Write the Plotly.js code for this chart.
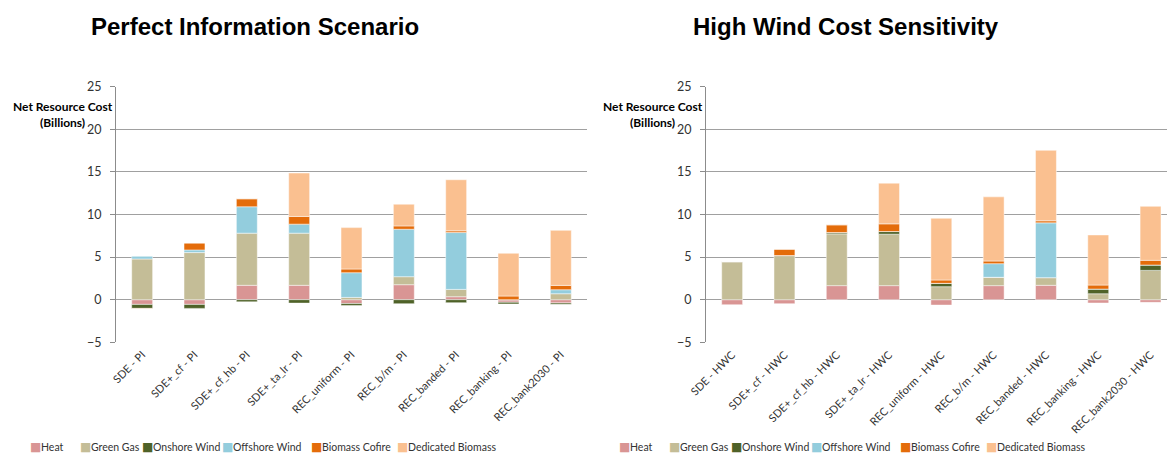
<!DOCTYPE html>
<html>
<head>
<meta charset="utf-8">
<script src="https://cdn.plot.ly/plotly-3.0.1.min.js"></script>
<style>
  html, body { margin: 0; padding: 0; background: #fff; overflow: hidden; }
  #chart { width: 1167px; height: 453px; }
</style>
</head>
<body>
<div id="chart"></div>
<script>
// ---------------- DATA ----------------
const seriesNames = ['Heat', 'Green Gas', 'Onshore Wind', 'Offshore Wind', 'Biomass Cofire', 'Dedicated Biomass'];

const categoriesPI = ['SDE - PI', 'SDE+_cf - PI', 'SDE+_cf_hb - PI', 'SDE+_ta_lr - PI', 'REC_uniform - PI',
                      'REC_b/m - PI', 'REC_banded - PI', 'REC_banking - PI', 'REC_bank2030 - PI'];
const categoriesHWC = ['SDE - HWC', 'SDE+_cf - HWC', 'SDE+_cf_hb - HWC', 'SDE+_ta_lr - HWC', 'REC_uniform - HWC',
                       'REC_b/m - HWC', 'REC_banded - HWC', 'REC_banking - HWC', 'REC_bank2030 - HWC'];

// Perfect Information Scenario (billions)
const heatPI       = [-0.55, -0.55, 1.69, 1.69, -0.45, 1.76, 0.35, -0.30, -0.38];
const greenGasPI   = [4.78, 5.53, 6.12, 6.12, 0.27, 0.94, 0.86, 0.00, 0.70];
const onshorePI    = [-0.47, -0.47, -0.25, -0.40, -0.22, -0.47, -0.35, -0.20, -0.15];
const offshorePI   = [0.35, 0.31, 3.10, 1.06, 2.90, 5.57, 6.67, 0.00, 0.47];
const cofirePI     = [0.00, 0.82, 0.94, 0.90, 0.43, 0.39, 0.20, 0.43, 0.51];
const dedicatedPI  = [-0.06, 0.00, 0.00, 5.10, 4.86, 2.55, 6.00, 5.02, 6.46];

// High Wind Cost Sensitivity (billions)
const heatHWC      = [-0.59, -0.47, 1.65, 1.65, -0.63, 1.65, 1.69, -0.39, -0.31];
const greenGasHWC  = [4.47, 5.18, 6.08, 6.04, 1.53, 0.98, 0.90, 0.70, 3.44];
const onshoreHWC   = [0.00, 0.00, 0.16, 0.31, 0.39, 0.00, 0.00, 0.55, 0.63];
const offshoreHWC  = [0.00, 0.00, 0.00, 0.00, 0.00, 1.60, 6.43, 0.00, 0.00];
const cofireHWC    = [0.00, 0.75, 0.90, 0.90, 0.39, 0.31, 0.24, 0.47, 0.55];
const dedicatedHWC = [0.00, 0.00, 0.00, 4.78, 7.25, 7.53, 8.27, 5.88, 6.34];

const yTickVals = [-5, 0, 5, 10, 15, 20, 25];

// ---------------- STYLE ----------------
const colors = ['#d99594', '#c4bd97', '#4f6228', '#93cddd', '#e46c0a', '#fac090'];
const W = 1167, H = 453;
const yRange = [-5, 25];
const yDom = [110.7 / H, 366.3 / H];
const xDomL = [116 / W, 587 / W];
const xDomR = [706 / W, 1];
const catPx = 52.3;
const rightRangeEnd = -0.5 + (W - 706) / catPx;
const zeroPos = yDom[0] + (0 - yRange[0]) / (yRange[1] - yRange[0]) * (yDom[1] - yDom[0]);
const labelFont = { family: 'Lato, "Open Sans", sans-serif', size: 11, color: '#333' };
const legendFont = { family: 'Lato, "Open Sans", sans-serif', size: 10.5, color: '#333' };
const tickFont = { family: 'Lato, "Open Sans", sans-serif', size: 12.5, color: '#333' };
const gridColor = '#a0a0a0';
const axisColor = '#8c8c8c';

const dataPI = [heatPI, greenGasPI, onshorePI, offshorePI, cofirePI, dedicatedPI];
const dataHWC = [heatHWC, greenGasHWC, onshoreHWC, offshoreHWC, cofireHWC, dedicatedHWC];

const traces = [];
function addTraces(cats, series, xa, ya) {
  series.forEach((vals, i) => {
    traces.push({
      type: 'bar',
      name: seriesNames[i],
      x: cats,
      y: vals,
      xaxis: xa,
      yaxis: ya,
      width: 0.4,
      showlegend: false,
      marker: { color: colors[i], line: { color: 'rgba(255,255,255,0.6)', width: 0.8 } },
      hovertemplate: '%{x}<br>' + seriesNames[i] + ': %{y}<extra></extra>'
    });
  });
}
addTraces(categoriesPI, dataPI, 'x', 'y');
addTraces(categoriesHWC, dataHWC, 'x2', 'y2');

function yAxis(anchor) {
  return {
    domain: yDom, anchor: anchor, range: yRange, tickvals: yTickVals,
    showgrid: true, gridcolor: gridColor, gridwidth: 1,
    zeroline: false, showline: true, linecolor: axisColor, linewidth: 1,
    ticks: 'outside', ticklen: 5, tickcolor: axisColor, ticklabelstandoff: 6,
    tickfont: tickFont, fixedrange: true
  };
}
function xAxis(domain, anchor, range) {
  return {
    domain: domain, anchor: anchor, type: 'category', range: range,
    showgrid: false, zeroline: false, showline: false, ticks: '',
    tickangle: -45, tickfont: labelFont, ticklabelstandoff: 3, fixedrange: true
  };
}
function zeroAxis(overlay, domain, range) {
  return {
    overlaying: overlay, anchor: 'free', position: zeroPos, domain: domain,
    type: 'linear', range: range, tickmode: 'linear', tick0: 0.5, dtick: 1,
    ticks: 'outside', ticklen: 5, tickcolor: axisColor, showticklabels: false,
    showline: true, linecolor: axisColor, linewidth: 1, showgrid: false, zeroline: false,
    fixedrange: true
  };
}

const annotations = [];
const titleFont = { family: '"Liberation Sans", Arial, sans-serif', size: 24, color: '#000' };
annotations.push({ text: '<b>Perfect Information Scenario</b>', xref: 'paper', yref: 'paper',
  x: 255 / W, y: (H - 27) / H, xanchor: 'center', yanchor: 'middle', showarrow: false, font: titleFont });
annotations.push({ text: '<b>High Wind Cost Sensitivity</b>', xref: 'paper', yref: 'paper',
  x: 846 / W, y: (H - 27) / H, xanchor: 'center', yanchor: 'middle', showarrow: false, font: titleFont });

const yTitleFont = { family: 'Lato, "Open Sans", sans-serif', size: 12, color: '#000' };
[62.5, 652.5].forEach(cx => {
  annotations.push({ text: '<b>Net Resource Cost</b><br><b>(Billions)</b>', xref: 'paper', yref: 'paper',
    x: cx / W, y: (H - 115) / H, xanchor: 'center', yanchor: 'middle', align: 'center',
    showarrow: false, font: yTitleFont });
});

// custom legends under each chart: coloured square + label
const legendOffsets = [0, 50, 112, 192, 281, 367];
[30, 619].forEach(x0 => {
  seriesNames.forEach((nm, i) => {
    annotations.push({
      text: '■', xref: 'paper', yref: 'paper', x: (x0 + legendOffsets[i] - 2) / W, y: (H - 447) / H,
      xanchor: 'left', yanchor: 'middle', showarrow: false,
      font: { family: '"DejaVu Sans", sans-serif', size: 12, color: colors[i] }
    });
    annotations.push({
      text: nm, xref: 'paper', yref: 'paper', x: (x0 + legendOffsets[i] + 9) / W, y: (H - 447) / H,
      xanchor: 'left', yanchor: 'middle', showarrow: false, font: legendFont
    });
  });
});

const layout = {
  width: W, height: H,
  margin: { l: 0, r: 0, t: 0, b: 0 },
  paper_bgcolor: '#fff', plot_bgcolor: '#fff',
  barmode: 'relative', bargap: 0.6,
  showlegend: false,
  xaxis: xAxis(xDomL, 'y', [-0.5, 8.5]),
  yaxis: yAxis('x'),
  xaxis2: xAxis(xDomR, 'y2', [-0.5, rightRangeEnd]),
  yaxis2: yAxis('x2'),
  xaxis3: zeroAxis('x', xDomL, [-0.5, 8.5]),
  xaxis4: zeroAxis('x2', xDomR, [-0.5, rightRangeEnd]),
  annotations: annotations
};

Plotly.newPlot('chart', traces, layout, { displayModeBar: false, staticPlot: true });
</script>
</body>
</html>
